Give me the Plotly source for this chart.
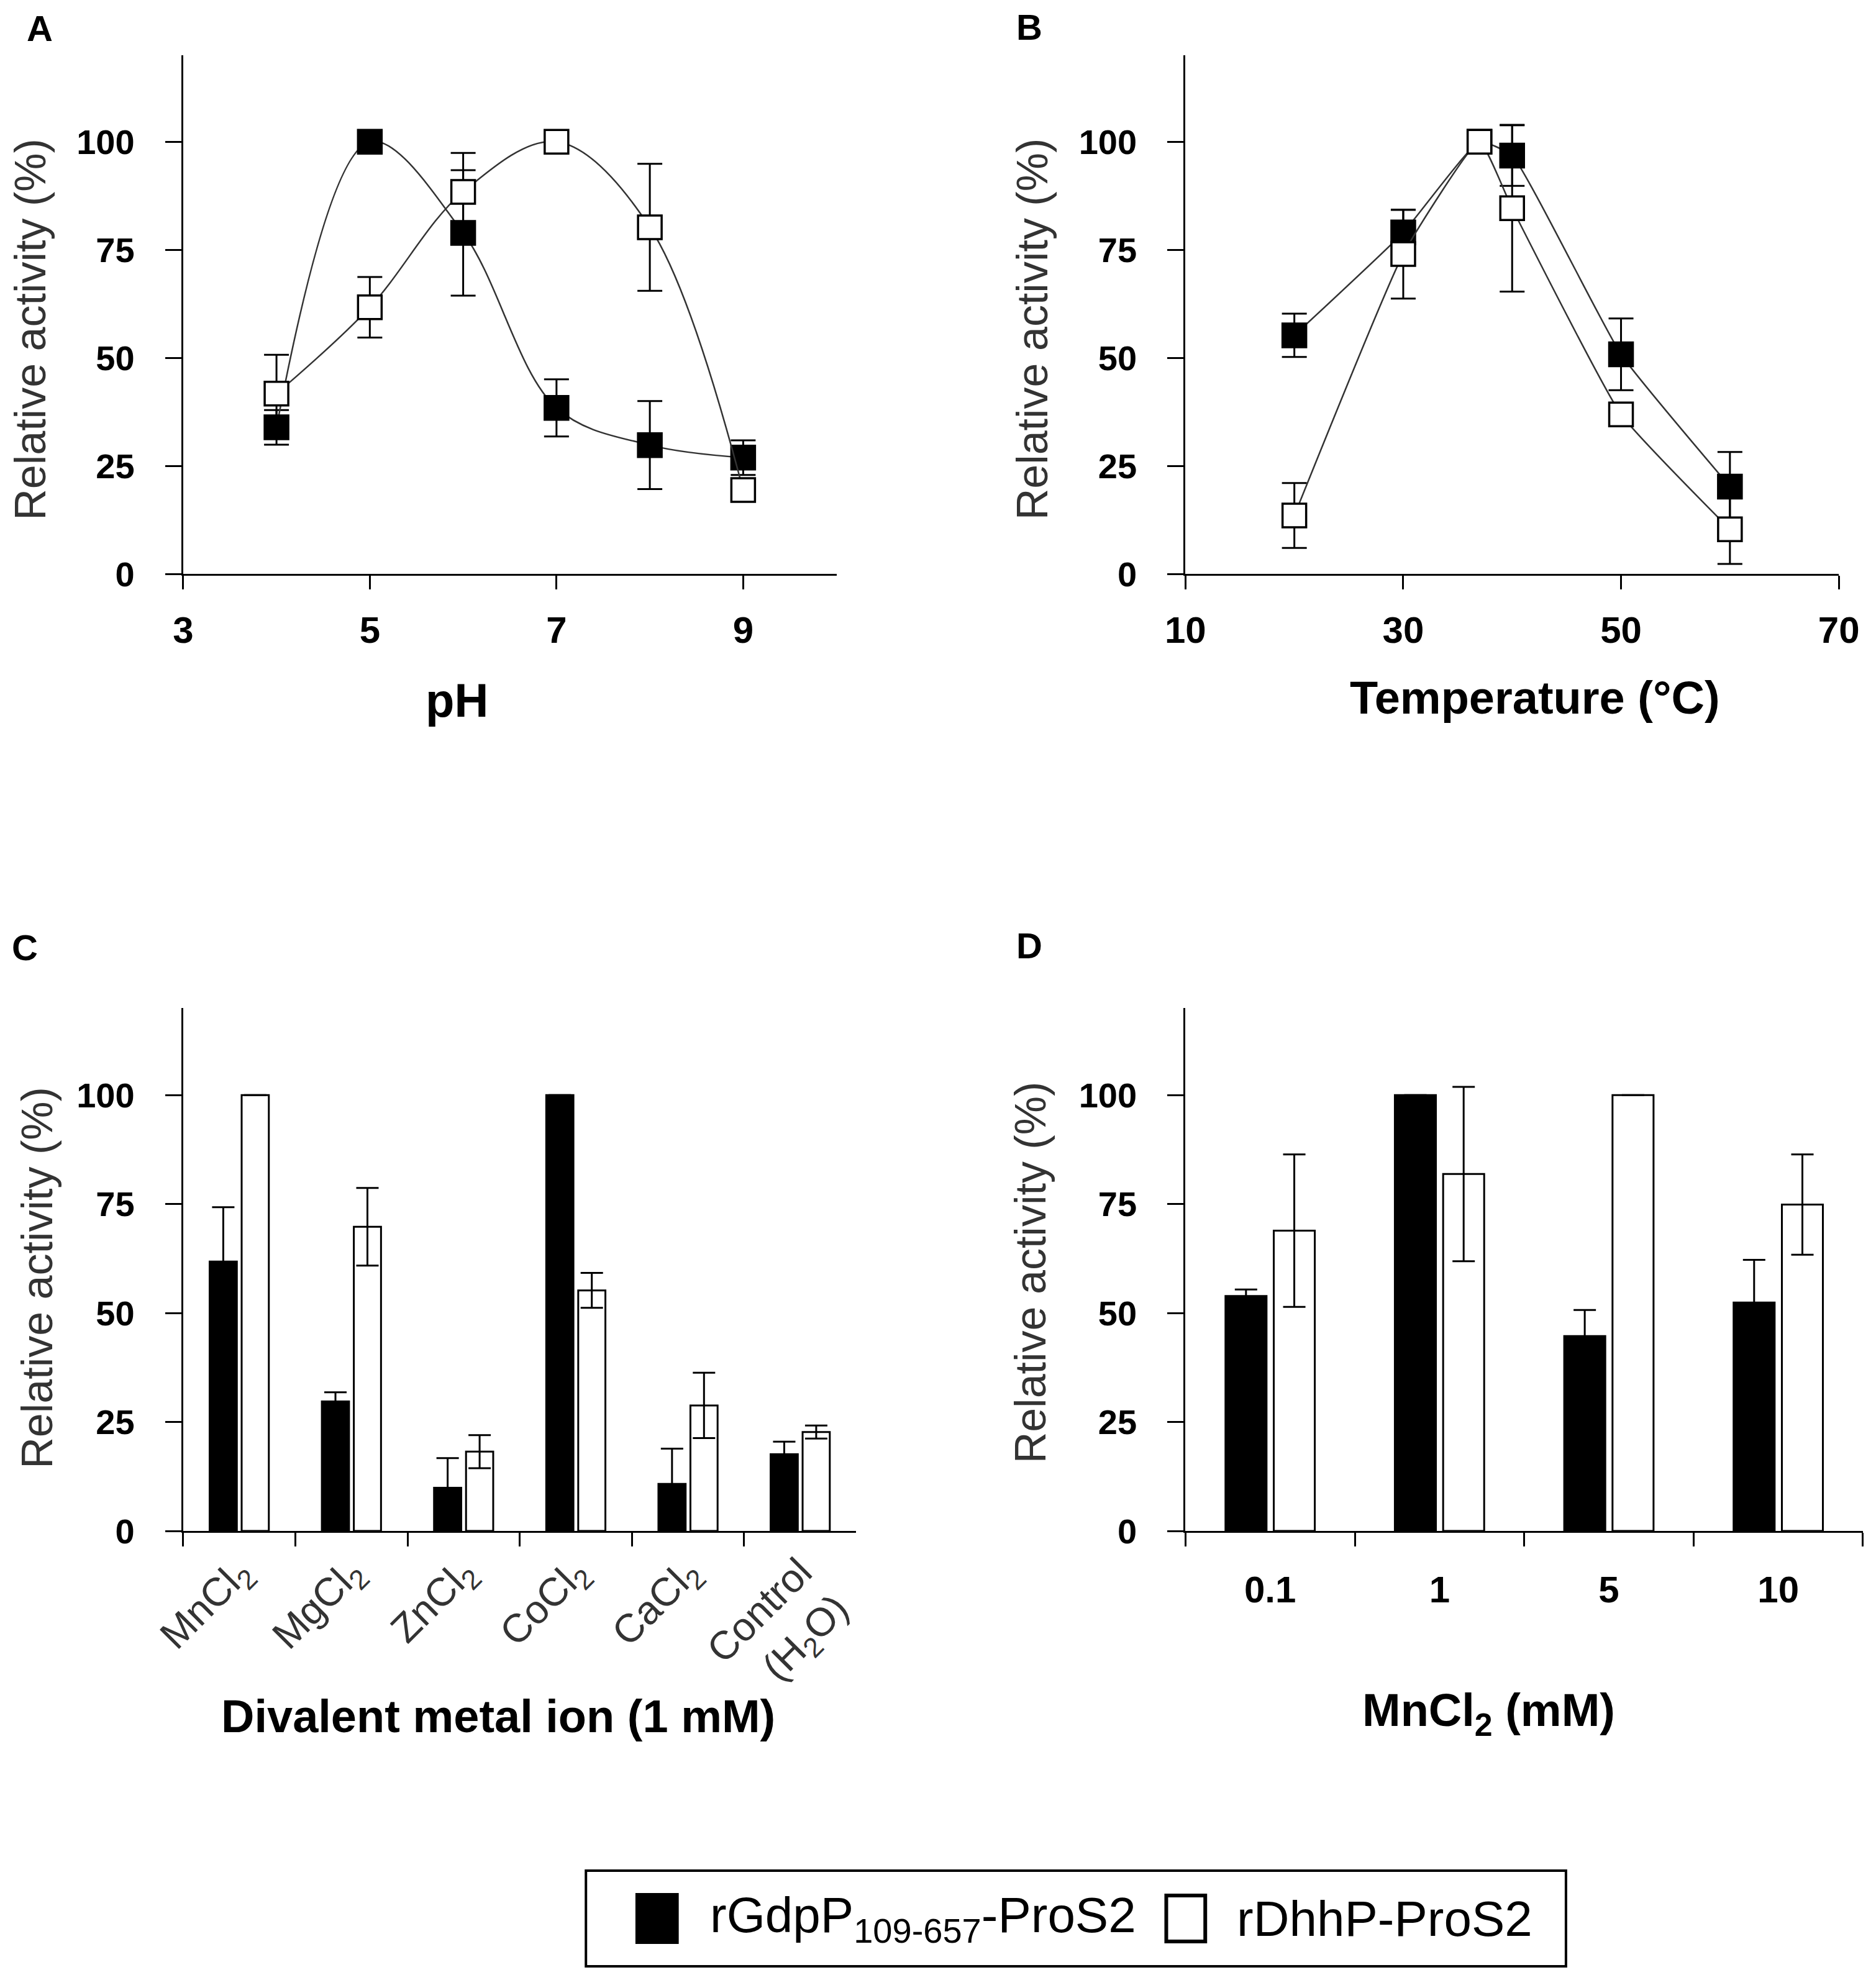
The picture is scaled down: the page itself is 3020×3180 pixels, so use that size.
import plotly.graph_objects as go

W, H = 3020, 3180

# ---------------- data ----------------
ph = [4, 5, 6, 7, 8, 9]
ph_gdpp = [33.9, 100, 78.9, 38.4, 29.8, 26.9]
ph_gdpp_err = [4, 0, 14.5, 6.6, 10.2, 4]
ph_dhhp = [41.7, 61.7, 88.4, 100, 80.2, 19.4]
ph_dhhp_err = [9, 7, 9, 0, 14.7, 2]

temp = [20, 30, 37, 40, 50, 60]
temp_gdpp = [55.2, 79.0, 100, 96.8, 50.8, 20.2]
temp_gdpp_err = [5, 5.2, 0, 7, 8.3, 8]
temp_dhhp = [13.5, 74.0, 100, 84.6, 36.9, 10.3]
temp_dhhp_err = [7.5, 10.3, 0, 19.3, 2, 8]

metals = ["MnCl<sub>2</sub>", "MgCl<sub>2</sub>", "ZnCl<sub>2</sub>", "CoCl<sub>2</sub>",
          "CaCl<sub>2</sub>", "Control<br>(H<sub>2</sub>O)"]
metal_gdpp = [61.8, 29.7, 9.9, 100, 10.8, 17.6]
metal_gdpp_err = [12.5, 2.1, 6.8, 0, 8.1, 2.9]
metal_dhhp = [100, 69.8, 18.2, 55.2, 28.8, 22.7]
metal_dhhp_err = [0, 8.9, 3.8, 4, 7.5, 1.5]

mn_conc = ["0.1", "1", "5", "10"]
mn_gdpp = [53.9, 100, 44.7, 52.4]
mn_gdpp_err = [1.5, 0, 6, 9.8]
mn_dhhp = [68.9, 81.9, 100, 74.9]
mn_dhhp_err = [17.5, 20, 0, 11.5]

y_ticks = [0, 25, 50, 75, 100]
ph_ticks = [3, 5, 7, 9]
temp_ticks = [10, 30, 50, 70]

name_gdpp = "rGdpP<sub>109-657</sub>-ProS2"
name_dhhp = "rDhhP-ProS2"

# ---------------- helpers ----------------
def px(x):
    return (x * 0.996 - 2) / W

def py(y):
    return 1 - (y - 9) / H

FONT = "Liberation Sans, Arial, sans-serif"
LINE_COL = "#333333"

fig = go.Figure()

def scatter(x, y, err, filled, xa, ya, smooth):
    fig.add_trace(go.Scatter(
        x=x, y=y, xaxis=xa, yaxis=ya, mode="lines+markers",
        line=dict(color=LINE_COL, width=2.5, shape="spline", smoothing=smooth),
        marker=dict(symbol="square", size=38,
                    color="black" if filled else "white",
                    line=dict(color="black", width=3.5)),
        error_y=dict(type="data", array=err, visible=True, color="black",
                     thickness=3, width=20),
        showlegend=False, cliponaxis=False))

scatter(ph, ph_gdpp, ph_gdpp_err, True, "x", "y", 1.0)
scatter(ph, ph_dhhp, ph_dhhp_err, False, "x", "y", 1.0)
scatter(temp, temp_gdpp, temp_gdpp_err, True, "x2", "y2", 0.4)
scatter(temp, temp_dhhp, temp_dhhp_err, False, "x2", "y2", 0.4)

def bars(x, y, err, filled, xa, ya):
    fig.add_trace(go.Bar(
        x=x, y=y, xaxis=xa, yaxis=ya,
        marker=dict(color="black" if filled else "white",
                    line=dict(color="black", width=3)),
        error_y=dict(type="data", array=err, visible=True, color="black",
                     thickness=3, width=18),
        showlegend=False))

bars(metals, metal_gdpp, metal_gdpp_err, True, "x3", "y3")
bars(metals, metal_dhhp, metal_dhhp_err, False, "x3", "y3")
bars(mn_conc, mn_gdpp, mn_gdpp_err, True, "x4", "y4")
bars(mn_conc, mn_dhhp, mn_dhhp_err, False, "x4", "y4")

# ---------------- axes ----------------
def yaxis(top, bottom, anchor):
    return dict(domain=[py(bottom), py(top)], range=[0, 120], tickvals=y_ticks,
                anchor=anchor, showline=True, linecolor="black", linewidth=3,
                ticks="outside", ticklen=26, tickwidth=3, tickcolor="black",
                showgrid=False, zeroline=False, ticklabelstandoff=38,
                automargin=False,
                tickfont=dict(family=FONT, size=56, color="black", weight="bold"))

def xaxis_num(left, right, rng, tv, anchor):
    return dict(domain=[px(left), px(right)], range=rng, tickvals=tv, anchor=anchor,
                showline=True, linecolor="black", linewidth=3,
                ticks="outside", ticklen=22, tickwidth=3, tickcolor="black",
                showgrid=False, zeroline=False, ticklabelstandoff=14,
                automargin=False,
                tickfont=dict(family=FONT, size=60, color="black", weight="bold"))

fig.update_layout(
    width=W, height=H, margin=dict(l=0, r=0, t=0, b=0, autoexpand=False),
    plot_bgcolor="white", paper_bgcolor="white",
    barmode="group", bargap=0.43, bargroupgap=0.15,
    xaxis=xaxis_num(290, 1346, [3, 10], ph_ticks, "y"),
    yaxis=yaxis(90, 925, "x"),
    xaxis2=xaxis_num(1910, 2966, [10, 70], temp_ticks, "y2"),
    yaxis2=yaxis(90, 925, "x2"),
    xaxis3=dict(domain=[px(290), px(1378)], range=[-0.5, 5.5], anchor="y3",
                type="category", tickson="boundaries", showline=True,
                linecolor="black", linewidth=3, ticks="outside", ticklen=22,
                tickwidth=3, tickcolor="black", showgrid=False, tickangle=-45,
                automargin=False,
                tickfont=dict(family=FONT, size=64, color="#333333")),
    yaxis3=yaxis(1624, 2466, "x3"),
    xaxis4=dict(domain=[px(1910), px(3005)], range=[-0.5, 3.5], anchor="y4",
                type="category", tickson="boundaries", showline=True,
                linecolor="black", linewidth=3, ticks="outside", ticklen=22,
                tickwidth=3, tickcolor="black", showgrid=False,
                ticklabelstandoff=40, automargin=False,
                tickfont=dict(family=FONT, size=60, color="black", weight="bold")),
    yaxis4=yaxis(1624, 2466, "x4"),
)

# ---------------- annotations ----------------
ann = []
def text(x, y, s, size, bold=False, color="black", angle=0, xanchor="center"):
    ann.append(dict(x=px(x), y=py(y), xref="paper", yref="paper", text=s,
                    showarrow=False, xanchor=xanchor, yanchor="middle",
                    textangle=angle,
                    font=dict(family=FONT, size=size, color=color,
                              weight="bold" if bold else "normal")))

# panel letters
text(58, 47, "A", 58, True)
text(1658, 45, "B", 58, True)
text(34, 1526, "C", 58, True)
text(1658, 1523, "D", 58, True)

# y titles
ytitle = "Relative activity (%)"
text(43, 531, ytitle, 70, color="#333333", angle=-90)
text(1663, 531, ytitle, 70, color="#333333", angle=-90)
text(54, 2058, ytitle, 70, color="#333333", angle=-90)
text(1660, 2050, ytitle, 70, color="#333333", angle=-90)

# x titles
text(732, 1128, "pH", 76, True)
text(2475, 1124, "Temperature (°C)", 74, True)
text(799, 2764, "Divalent metal ion (1 mM)", 74, True)
text(2400, 2760, "MnCl<sub>2</sub> (mM)", 74, True)

# legend
text(1140, 3090, name_gdpp, 80, xanchor="left")
text(1991, 3090, name_dhhp, 80, xanchor="left")
fig.update_layout(annotations=ann)

shapes = [
    dict(type="rect", xref="paper", yref="paper", x0=px(941), x1=px(2525),
         y0=py(3167), y1=py(3013), line=dict(color="black", width=4),
         fillcolor="rgba(0,0,0,0)"),
    dict(type="rect", xref="paper", yref="paper", x0=px(1022), x1=px(1090),
         y0=py(3130), y1=py(3050), line=dict(color="black", width=2),
         fillcolor="black"),
    dict(type="rect", xref="paper", yref="paper", x0=px(1879), x1=px(1942),
         y0=py(3127), y1=py(3053), line=dict(color="black", width=6),
         fillcolor="white"),
]
fig.update_layout(shapes=shapes)

fig.write_html("out.html")
